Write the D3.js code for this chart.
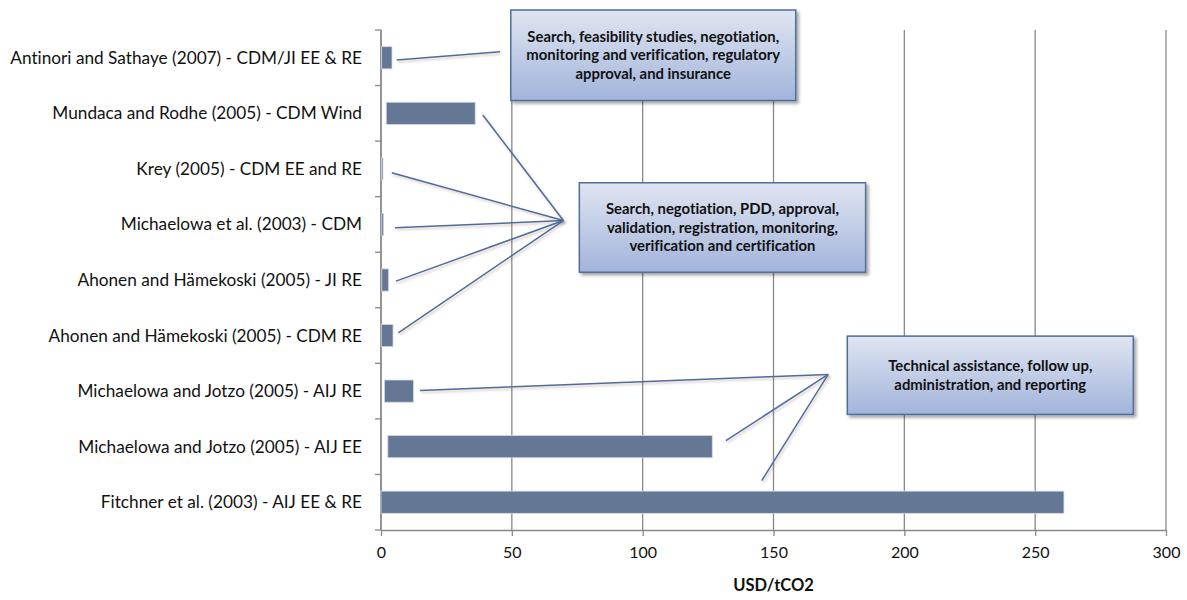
<!DOCTYPE html>
<html><head><meta charset="utf-8">
<script src="https://cdn.jsdelivr.net/npm/d3@7"></script>
<style>body{margin:0;background:#fff}svg{display:block}text{font-variant-ligatures:none;font-feature-settings:"liga" 0}</style>
</head><body>
<svg id="c" width="1187" height="600"></svg>
<script>
// ---- data ----
const categories = [
  "Antinori and Sathaye (2007) - CDM/JI EE & RE",
  "Mundaca and Rodhe (2005) - CDM Wind",
  "Krey (2005) - CDM EE and RE",
  "Michaelowa et al. (2003) - CDM",
  "Ahonen and Hämekoski (2005) - JI RE",
  "Ahonen and Hämekoski (2005) - CDM RE",
  "Michaelowa and Jotzo (2005) - AIJ RE",
  "Michaelowa and Jotzo (2005) - AIJ EE",
  "Fitchner et al. (2003) - AIJ EE & RE"
];
const lowValues  = [0.25, 2.0, 0.15, 0.3, 0.3, 0.1, 1.3, 2.6, 0];
const highValues = [4.2, 36.0, 0.75, 1.0, 2.9, 4.6, 12.4, 126.6, 261];
const xTicks = [0, 50, 100, 150, 200, 250, 300];
const axisTitle = "USD/tCO2";
const noteTexts = [
  ["Search, feasibility studies, negotiation,", "monitoring and verification, regulatory", "approval, and insurance"],
  ["Search, negotiation, PDD, approval,", "validation, registration, monitoring,", "verification and certification"],
  ["Technical assistance, follow up,", "administration, and reporting"]
];
// annotation boxes in data space: [x0, x1] in USD/tCO2, [f0, f1] in category-band units
const noteBoxes = [
  {x0: 49.6, x1: 158.5, f0: -0.36, f1: 1.27},
  {x0: 75.8, x1: 185.2, f0: 2.75, f1: 4.36},
  {x0: 178.2, x1: 287.5, f0: 5.51, f1: 6.92}
];
// connector hubs and start points (value, band units)
const noteHubs = [[45.5, 0.39], [69.7, 3.43], [170.9, 6.20]];
const noteStarts = [
  [[6.0, 0.54]],
  [[38.9, 1.53], [4.1, 2.57], [5.35, 3.56], [5.7, 4.52], [6.6, 5.45]],
  [[14.9, 6.49], [131.8, 7.39], [145.5, 8.11]]
];

// ---- chart ----
const svg = d3.select("#c");
const FONT = "Lato, 'Open Sans', sans-serif";
const x = d3.scaleLinear().domain([0, 300]).range([381, 1166]);
const y = d3.scaleBand().domain(categories).range([30, 530]).padding(0);
const step = y.step();
const yf = f => y.range()[0] + f * step;

const defs = svg.append("defs");
const grad = defs.append("linearGradient").attr("id", "boxg").attr("x1", 0).attr("y1", 0).attr("x2", 0).attr("y2", 1);
grad.append("stop").attr("offset", "0%").attr("stop-color", "#e0e5f1");
grad.append("stop").attr("offset", "100%").attr("stop-color", "#a2b4db");
const sh = defs.append("filter").attr("id", "sh").attr("x", "-10%").attr("y", "-10%").attr("width", "130%").attr("height", "140%");
sh.append("feDropShadow").attr("dx", 2.5).attr("dy", 2.5).attr("stdDeviation", 1.8).attr("flood-color", "#000").attr("flood-opacity", 0.35);
const shl = defs.append("filter").attr("id", "shl").attr("x", "-10%").attr("y", "-50%").attr("width", "130%").attr("height", "200%");
shl.append("feDropShadow").attr("dx", 1.5).attr("dy", 2).attr("stdDeviation", 1.2).attr("flood-color", "#7a4a3a").attr("flood-opacity", 0.3);

svg.append("rect").attr("width", 1187).attr("height", 600).attr("fill", "#fff");

const GRID = "#8d8787";
// gridlines
svg.append("g").selectAll("line").data(xTicks.filter(d => d > 0)).join("line")
  .attr("x1", d => x(d)).attr("x2", d => x(d))
  .attr("y1", y.range()[0]).attr("y2", y.range()[1])
  .attr("stroke", GRID).attr("stroke-width", 1.3);

// x axis
const xa = svg.append("g").attr("transform", `translate(0,${y.range()[1]})`)
  .call(d3.axisBottom(x).tickValues(xTicks).tickSize(6).tickSizeOuter(0).tickPadding(11));
xa.select(".domain").attr("stroke", GRID).attr("stroke-width", 1.5);
xa.selectAll(".tick line").attr("stroke", GRID).attr("stroke-width", 1.3);
xa.selectAll(".tick text").attr("font-family", FONT).attr("font-size", 16).attr("fill", "#111");

// y axis line and boundary ticks
svg.append("line").attr("x1", x(0)).attr("x2", x(0)).attr("y1", y.range()[0]).attr("y2", y.range()[1])
  .attr("stroke", GRID).attr("stroke-width", 1.8);
svg.append("g").selectAll("line").data(d3.range(categories.length + 1)).join("line")
  .attr("x1", x(0) - 6).attr("x2", x(0)).attr("y1", i => yf(i)).attr("y2", i => yf(i))
  .attr("stroke", GRID).attr("stroke-width", 1.3);

// y labels
const yl = svg.append("g").selectAll("text").data(categories).join("text")
  .attr("x", x(0) - 19).attr("y", d => y(d) + step / 2).attr("dy", "0.35em")
  .attr("text-anchor", "end").attr("font-family", FONT).attr("font-size", 16).attr("fill", "#111")
  .text(d => d);
{
  const w = yl.nodes()[0].getComputedTextLength();
  yl.attr("font-size", 16 * 352 / w);
}

// bars
const barH = step * 0.4;
svg.append("g").selectAll("rect").data(categories).join("rect")
  .attr("x", (d, i) => x(lowValues[i]))
  .attr("width", (d, i) => Math.max(1, x(highValues[i]) - x(lowValues[i])))
  .attr("y", d => y(d) + (step - barH) / 2)
  .attr("height", barH)
  .attr("fill", "#647896").attr("stroke", "#d3dae6").attr("stroke-width", 0.8);

// axis title
svg.append("text").attr("x", x(150)).attr("y", 585).attr("dy", "0.35em").attr("text-anchor", "middle")
  .attr("font-family", FONT).attr("font-weight", "bold").attr("font-size", 16.5).attr("fill", "#111").text(axisTitle);

// connectors
const cg = svg.append("g");
noteStarts.forEach((starts, k) => {
  const hub = noteHubs[k];
  starts.forEach(s => {
    cg.append("line").attr("x1", x(s[0])).attr("y1", yf(s[1])).attr("x2", x(hub[0])).attr("y2", yf(hub[1]))
      .attr("stroke", "#4d6c9c").attr("stroke-width", 1.5).attr("filter", "url(#shl)");
  });
});

// boxes
noteBoxes.forEach((b, k) => {
  const g = svg.append("g");
  const x0 = x(b.x0), x1 = x(b.x1), y0 = yf(b.f0), y1 = yf(b.f1);
  g.append("rect").attr("x", x0).attr("y", y0).attr("width", x1 - x0).attr("height", y1 - y0)
    .attr("fill", "url(#boxg)").attr("stroke", "#4f6e9e").attr("stroke-width", 1.5).attr("filter", "url(#sh)");
  const lines = noteTexts[k];
  const cy = (y0 + y1) / 2, lh = 18.5;
  lines.forEach((t, j) => {
    g.append("text").attr("class", "nt").attr("x", (x0 + x1) / 2)
      .attr("y", cy + (j - (lines.length - 1) / 2) * lh).attr("dy", "0.35em")
      .attr("text-anchor", "middle").attr("font-family", FONT).attr("font-weight", "bold")
      .attr("font-size", 13).attr("fill", "#111").text(t);
  });
});
{
  const nt = svg.selectAll(".nt");
  const w = nt.nodes()[0].getComputedTextLength();
  nt.attr("font-size", 13 * 252 / w);
}
</script>
</body></html>
